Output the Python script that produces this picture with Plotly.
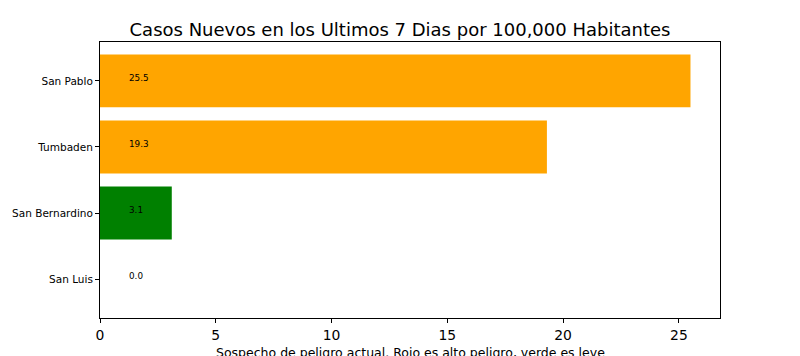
import plotly.graph_objects as go

localidades = ["San Luis", "San Bernardino", "Tumbaden", "San Pablo"]
casos = [0.0, 3.1, 19.3, 25.5]
colores = ["green", "green", "orange", "orange"]
x_ticks = [0, 5, 10, 15, 20, 25]

fig = go.Figure()
fig.add_trace(go.Bar(
    y=localidades, x=casos, orientation="h",
    marker=dict(color=colores, line=dict(width=0)),
    width=0.8, showlegend=False, hoverinfo="x+y",
))

for loc, v in zip(localidades, casos):
    fig.add_annotation(
        x=1.2, y=loc, xref="x", yref="y", text=f"{v:.1f}",
        showarrow=False, xanchor="left", yanchor="middle", yshift=3,
        borderpad=0,
        font=dict(family="DejaVu Sans", size=8.8, color="black"),
    )

fig.add_annotation(
    x=0.5, y=-0.125, xref="paper", yref="paper",
    text="Sospecho de peligro actual. Rojo es alto peligro, verde es leve",
    showarrow=False, xanchor="center", yanchor="middle",
    font=dict(family="DejaVu Sans", size=12.5, color="black"),
)

fig.update_layout(
    width=800, height=356,
    margin=dict(l=100, r=80, t=42, b=38, autoexpand=False),
    paper_bgcolor="white", plot_bgcolor="white",
    font=dict(family="DejaVu Sans", color="black"),
    title=dict(text="Casos Nuevos en los Ultimos 7 Dias por 100,000 Habitantes",
               x=0.5, xref="container", xanchor="center",
               y=1 - 30 / 356, yref="container", yanchor="middle",
               font=dict(family="DejaVu Sans", size=18, color="black")),
    bargap=0.2,
)
fig.update_xaxes(
    range=[0, 26.775], tickvals=x_ticks, ticktext=[str(t) for t in x_ticks],
    showgrid=False, zeroline=False, showline=True, mirror=True,
    linecolor="black", linewidth=1, ticks="outside", ticklen=4,
    tickcolor="black", tickfont=dict(size=13.9, family="DejaVu Sans"),
)
fig.update_yaxes(
    type="category", categoryorder="array", categoryarray=localidades,
    range=[-0.59, 3.59],
    showgrid=False, zeroline=False, showline=True, mirror=True,
    linecolor="black", linewidth=1, ticks="outside", ticklen=4,
    tickcolor="black", tickfont=dict(size=10.5, family="DejaVu Sans"),
)

fig.write_html("out.html", config={"displayModeBar": False},
               post_script="document.body.style.margin='0';document.body.style.overflow='hidden';")
